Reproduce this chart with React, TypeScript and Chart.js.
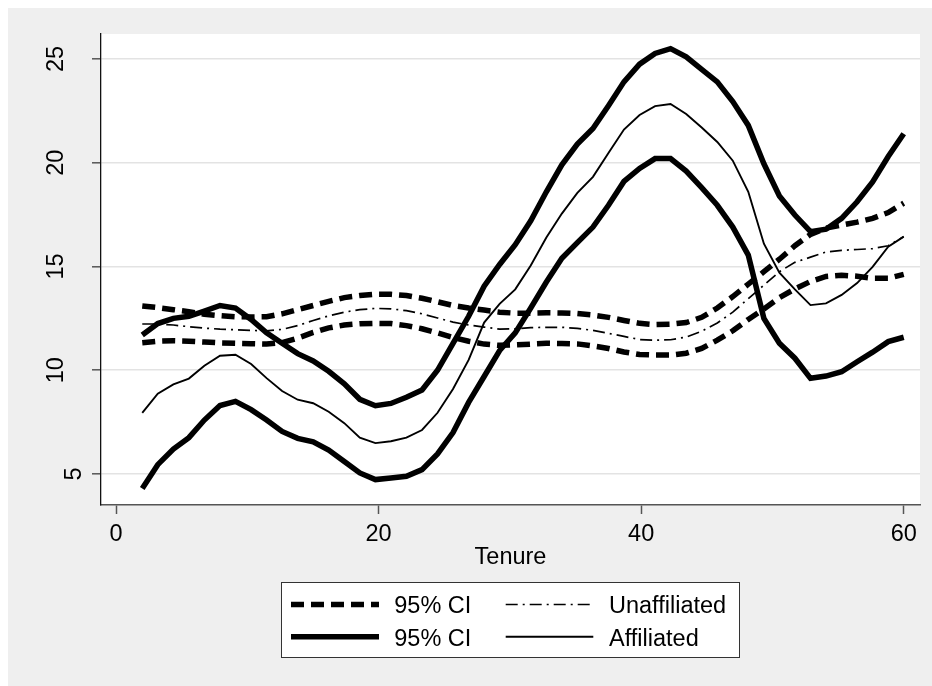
import React, { useEffect, useRef } from "react";
import { Chart, registerables } from "chart.js";

Chart.register(...registerables);

// ---- data ----
const xGrid = [
  2.0, 3.18, 4.37, 5.55, 6.73, 7.92, 9.1, 10.29, 11.47, 12.65,
  13.84, 15.02, 16.2, 17.39, 18.57, 19.76, 20.94, 22.12, 23.31, 24.49,
  25.67, 26.86, 28.04, 29.22, 30.41, 31.59, 32.78, 33.96, 35.14, 36.33,
  37.51, 38.69, 39.88, 41.06, 42.24, 43.43, 44.61, 45.8, 46.98, 48.16,
  49.35, 50.53, 51.71, 52.9, 54.08, 55.27, 56.45, 57.63, 58.82, 60.0,
];

const unaffUpper = [
  13.1, 13.02, 12.92, 12.82, 12.7, 12.63, 12.58, 12.57, 12.58, 12.72,
  12.92, 13.12, 13.32, 13.5, 13.6, 13.66, 13.66, 13.6, 13.47, 13.3,
  13.12, 13.0, 12.9, 12.8, 12.75, 12.75, 12.77, 12.76, 12.73, 12.66,
  12.55, 12.4, 12.26, 12.2, 12.22, 12.3, 12.55, 13.0, 13.55, 14.15,
  14.75, 15.35, 16.0, 16.55, 16.85, 17.0, 17.14, 17.32, 17.6, 18.05,
];

const unaffLower = [
  11.33, 11.4, 11.42, 11.4, 11.36, 11.32, 11.3, 11.28, 11.26, 11.33,
  11.55, 11.82, 12.04, 12.18, 12.24, 12.26, 12.25, 12.15, 12.0, 11.8,
  11.58, 11.4, 11.26, 11.2, 11.22, 11.26, 11.3, 11.29, 11.27, 11.17,
  11.05, 10.88, 10.76, 10.73, 10.73, 10.82, 11.05, 11.45, 11.9, 12.45,
  12.95, 13.5, 13.92, 14.28, 14.52, 14.58, 14.53, 14.43, 14.43, 14.62,
];

const affUpper = [
  11.7, 12.25, 12.5, 12.6, 12.85, 13.12, 13.0, 12.45, 11.8, 11.3,
  10.8, 10.45, 9.95, 9.35, 8.6, 8.29, 8.4, 8.7, 9.05, 10.0,
  11.3, 12.6, 14.05, 15.1, 16.05, 17.2, 18.6, 19.9, 20.9, 21.65,
  22.75, 23.9, 24.75, 25.27, 25.5, 25.1, 24.5, 23.9, 22.95, 21.8,
  19.95, 18.4, 17.48, 16.68, 16.8, 17.32, 18.12, 19.07, 20.3, 21.4,
];

const affLower = [
  4.3, 5.45, 6.2, 6.75, 7.6, 8.3, 8.5, 8.1, 7.6, 7.05,
  6.72, 6.55, 6.15, 5.6, 5.05, 4.73, 4.81, 4.89, 5.21, 5.97,
  7.0, 8.45, 9.7, 10.95, 11.8, 13.0, 14.25, 15.4, 16.15, 16.9,
  17.95, 19.1, 19.73, 20.2, 20.2, 19.6, 18.8, 17.95, 16.9, 15.55,
  12.5, 11.3, 10.58, 9.61, 9.72, 9.93, 10.41, 10.87, 11.38, 11.59,
];

const unaff = [
  12.23, 12.23, 12.18, 12.1, 12.03, 11.98, 11.95, 11.92, 11.9, 11.97,
  12.15, 12.4, 12.62, 12.8, 12.92, 12.98, 12.96, 12.87, 12.72, 12.52,
  12.32, 12.18, 12.08, 11.98, 12.0, 12.05, 12.07, 12.07, 12.02, 11.92,
  11.78, 11.63, 11.48, 11.45, 11.47, 11.6, 11.88, 12.28, 12.8, 13.45,
  14.1, 14.75, 15.2, 15.45, 15.7, 15.78, 15.82, 15.86, 16.0, 16.44,
];

const aff = [
  7.95, 8.87, 9.32, 9.6, 10.22, 10.7, 10.75, 10.3, 9.62, 9.0,
  8.58, 8.41, 8.0, 7.45, 6.75, 6.49, 6.58, 6.75, 7.12, 7.95,
  9.1, 10.5, 12.3, 13.2, 13.9, 15.05, 16.4, 17.55, 18.55, 19.32,
  20.47, 21.6, 22.3, 22.73, 22.83, 22.35, 21.7, 21.0, 20.1, 18.6,
  16.1, 14.7, 13.9, 13.14, 13.22, 13.63, 14.2, 14.98, 15.95, 16.44,
];

const xTickValues = [0, 20, 40, 60];
const yTickValues = [5, 10, 15, 20, 25];
const xAxisTitle = "Tenure";
const ciLabel = "95% CI";
const unaffLabel = "Unaffiliated";
const affLabel = "Affiliated";
// legend grid: rows of dataset indices
const legendGrid = [
  [0, 4],
  [2, 5],
];

const FONT = '"Liberation Sans", Arial, Helvetica, sans-serif';
const FONT_SIZE = 23.5;

const toPts = (ys: number[]) => xGrid.map((x, i) => ({ x, y: ys[i] }));

const THICK = 5.5;
const dashed = [13, 7];
const dashDot = [12, 5, 2, 5];

const bgPlugin = {
  id: "stataBg",
  beforeDraw(chart: any) {
    const { ctx, chartArea: a, width, height } = chart;
    ctx.save();
    ctx.fillStyle = "#efefef";
    ctx.fillRect(0, 0, width, height);
    ctx.fillStyle = "#ffffff";
    ctx.fillRect(a.left, a.top, a.right - a.left, a.bottom - a.top);
    ctx.restore();
  },
};

const decorPlugin = {
  id: "stataDecor",
  afterDraw(chart: any) {
    const { ctx, chartArea: a } = chart;
    const yScale = chart.scales.y;
    ctx.save();
    ctx.fillStyle = "#000";
    ctx.font = `${FONT_SIZE}px ${FONT}`;
    const cap = FONT_SIZE * 0.716;

    // rotated y tick labels
    yTickValues.forEach((v) => {
      const label = String(v);
      const py = yScale.getPixelForValue(v);
      const cx = a.left - 28 - (label.length - 1) * 18.3;
      ctx.save();
      ctx.translate(cx + cap / 2, py);
      ctx.rotate(-Math.PI / 2);
      ctx.textAlign = "center";
      ctx.textBaseline = "alphabetic";
      ctx.fillText(label, 0, 0);
      ctx.restore();
    });

    // x axis title
    const midX = (a.left + a.right) / 2;
    ctx.textAlign = "center";
    ctx.textBaseline = "alphabetic";
    ctx.fillText(xAxisTitle, midX, a.bottom + 58.7);

    // legend box
    const boxW = 459;
    const boxL = midX - boxW / 2;
    const boxT = a.bottom + 77;
    const boxH = 76;
    ctx.fillStyle = "#ffffff";
    ctx.fillRect(boxL, boxT, boxW, boxH);
    ctx.strokeStyle = "#333";
    ctx.lineWidth = 1;
    ctx.strokeRect(boxL + 0.5, boxT + 0.5, boxW - 1, boxH - 1);

    const colSample = [
      [10, 98],
      [224.7, 312.3],
    ];
    const colText = [113.3, 328];
    const rowMid = [22.5, 54.7];
    const rowBase = [31, 64];
    legendGrid.forEach((row, r) => {
      row.forEach((idx, c) => {
        const ds = chart.data.datasets[idx];
        ctx.save();
        ctx.strokeStyle = ds.borderColor;
        ctx.lineWidth = ds.borderWidth;
        ctx.setLineDash(ds.borderDash || []);
        ctx.lineCap = "butt";
        ctx.beginPath();
        ctx.moveTo(boxL + colSample[c][0], boxT + rowMid[r]);
        ctx.lineTo(boxL + colSample[c][1], boxT + rowMid[r]);
        ctx.stroke();
        ctx.restore();
        ctx.fillStyle = "#000";
        ctx.textAlign = "left";
        ctx.textBaseline = "alphabetic";
        ctx.fillText(ds.label, boxL + colText[c], boxT + rowBase[r]);
      });
    });
    ctx.restore();
  },
};

export default function App() {
  const ref = useRef<HTMLCanvasElement>(null);

  useEffect(() => {
    const canvas = ref.current;
    if (!canvas) return;
    const base = {
      borderColor: "#000",
      backgroundColor: "rgba(0,0,0,0)",
      pointRadius: 0,
      pointHoverRadius: 0,
      fill: false,
      tension: 0,
      borderCapStyle: "butt" as const,
    };
    const chart = new Chart(canvas, {
      type: "line",
      data: {
        datasets: [
          { ...base, label: ciLabel, data: toPts(unaffUpper), borderWidth: THICK, borderDash: dashed },
          { ...base, label: ciLabel, data: toPts(unaffLower), borderWidth: THICK, borderDash: dashed },
          { ...base, label: ciLabel, data: toPts(affUpper), borderWidth: THICK, borderDash: [] },
          { ...base, label: ciLabel, data: toPts(affLower), borderWidth: THICK, borderDash: [] },
          { ...base, label: unaffLabel, data: toPts(unaff), borderWidth: 1.7, borderDash: dashDot },
          { ...base, label: affLabel, data: toPts(aff), borderWidth: 1.9, borderDash: [] },
        ],
      },
      options: {
        animation: false,
        responsive: true,
        maintainAspectRatio: false,
        events: [],
        layout: {
          autoPadding: false,
          padding: { top: 26, right: 12, left: 0, bottom: 0 },
        },
        plugins: {
          legend: { display: false },
          tooltip: { enabled: false },
          title: { display: false },
        },
        scales: {
          x: {
            type: "linear",
            min: -1.143,
            max: 61.24,
            afterBuildTicks: (s: any) => {
              s.ticks = xTickValues.map((v) => ({ value: v }));
            },
            afterFit: (s: any) => {
              s.height = 181;
            },
            grid: {
              drawOnChartArea: false,
              drawTicks: true,
              tickLength: 9,
              tickColor: "#555",
              tickWidth: 1.5,
            },
            border: { display: true, color: "#555", width: 1.5 },
            ticks: {
              color: "#000",
              font: { family: FONT, size: FONT_SIZE },
              padding: 6,
              maxRotation: 0,
              autoSkip: false,
            },
          },
          y: {
            type: "linear",
            min: 3.506,
            max: 26.205,
            afterBuildTicks: (s: any) => {
              s.ticks = yTickValues.map((v) => ({ value: v }));
            },
            afterFit: (s: any) => {
              s.width = 93;
            },
            grid: {
              drawOnChartArea: true,
              drawTicks: true,
              tickLength: 9,
              color: "#e3e3e3",
              lineWidth: 1.6,
              tickColor: "#555",
              tickWidth: 1.5,
            },
            border: { display: true, color: "#111", width: 1.3 },
            ticks: { display: false },
          },
        },
      },
      plugins: [bgPlugin, decorPlugin],
    } as any);
    return () => chart.destroy();
  }, []);

  return (
    <div style={{ position: "absolute", left: 8, top: 8, width: 924, height: 678 }}>
      <canvas ref={ref} />
    </div>
  );
}
